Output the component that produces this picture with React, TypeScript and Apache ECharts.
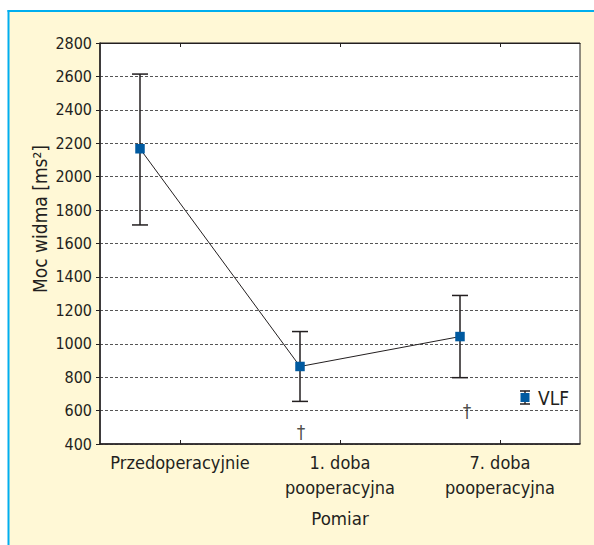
import React, { useEffect, useRef } from "react";
import * as echarts from "echarts";

// ---- data ----
const categories = ["Przedoperacyjnie", "1. doba\npooperacyjna", "7. doba\npooperacyjna"];
const seriesName = "VLF";
const means = [2167, 864, 1043];
const upper = [2614, 1073, 1289];
const lower = [1711, 655, 797];
const daggerValues: (number | null)[] = [null, 470, 600];
const yMin = 400;
const yMax = 2800;
const yInterval = 200;
const xTitle = "Pomiar";
const yTitle = "Moc widma [ms²]";

// ---- style ----
const FONT = "'Liberation Sans Narrow', 'DejaVu Sans Condensed', 'Arial Narrow', sans-serif";
const INK = "#231F20";
const BLUE = "#005AA0";
const PANEL = "#FFF8D6";
const FRAME = "#00AEEF";
const POINT_OFFSET = 0.25; // points sit a quarter band right of the band start

const legendIconSvg =
  "<svg xmlns='http://www.w3.org/2000/svg' width='12' height='15'>" +
  "<path d='M1 1H11M6 1V14M1 14H11' stroke='" + INK + "' stroke-width='1.4' fill='none'/>" +
  "<rect x='1.5' y='3' width='9' height='9' fill='" + BLUE + "'/></svg>";
const legendIcon = "image://data:image/svg+xml;charset=utf-8," + encodeURIComponent(legendIconSvg);

export default function App() {
  const ref = useRef<HTMLDivElement>(null);
  useEffect(() => {
    if (!ref.current) return;
    const chart = echarts.init(ref.current, null, { renderer: "svg" });
    const xs = means.map((_, i) => i + POINT_OFFSET);
    chart.setOption({
      animation: false,
      backgroundColor: "#ffffff",
      textStyle: { fontFamily: FONT, color: INK },
      graphic: [
        { type: "rect", shape: { x: 8.5, y: 11, width: 600, height: 600 }, style: { fill: PANEL }, z: -10 },
        { type: "line", shape: { x1: 7.5, y1: 11, x2: 600, y2: 11 }, style: { stroke: FRAME, lineWidth: 2 }, z: -9 },
        { type: "line", shape: { x1: 8.5, y1: 10, x2: 8.5, y2: 600 }, style: { stroke: FRAME, lineWidth: 2 }, z: -9 },
        {
          type: "text",
          x: 40,
          y: 219,
          rotation: Math.PI / 2,
          style: {
            text: yTitle,
            font: "19px " + FONT,
            fill: INK,
            align: "center",
            verticalAlign: "middle",
          },
        },
      ],
      legend: {
        show: true,
        data: [{ name: seriesName, icon: legendIcon }],
        left: 519,
        top: 388,
        padding: 0,
        itemWidth: 12,
        itemHeight: 15,
        itemGap: 0,
        textStyle: { fontFamily: FONT, fontSize: 19, color: INK, padding: [0, 0, 0, 2] },
      },
      grid: {
        left: 100,
        right: 14,
        top: 43,
        bottom: 101,
        show: true,
        backgroundColor: "#ffffff",
        borderColor: INK,
        borderWidth: 1,
      },
      xAxis: [
        {
          type: "category",
          data: categories,
          position: "bottom",
          boundaryGap: true,
          axisLine: { show: true, lineStyle: { color: INK, width: 1.5 } },
          axisTick: { show: true, inside: true, alignWithLabel: true, length: 4, lineStyle: { color: INK } },
          axisLabel: { interval: 0, fontFamily: FONT, fontSize: 18, lineHeight: 25, margin: 6, color: INK },
          splitLine: { show: false },
          name: xTitle,
          nameLocation: "middle",
          nameGap: 65,
          nameTextStyle: { fontFamily: FONT, fontSize: 18.5, color: INK },
        },
        {
          type: "category",
          data: categories,
          position: "top",
          boundaryGap: true,
          axisLine: { show: true, lineStyle: { color: INK, width: 1 } },
          axisTick: { show: true, inside: true, alignWithLabel: true, length: 4, lineStyle: { color: INK } },
          axisLabel: { show: false },
          splitLine: { show: false },
        },
        { type: "value", min: 0, max: 3, show: false, splitLine: { show: false } },
      ],
      yAxis: {
        type: "value",
        min: yMin,
        max: yMax,
        interval: yInterval,
        axisLine: { show: true, lineStyle: { color: INK, width: 1.5 } },
        axisTick: { show: true, inside: false, length: 4, lineStyle: { color: INK } },
        axisLabel: { fontFamily: FONT, fontSize: 16, margin: 8, color: INK, formatter: (v: number) => String(v) },
        splitLine: { show: true, lineStyle: { type: [3, 2], color: "#555555", width: 1 } },
      },
      series: [
        {
          type: "custom",
          name: "errors",
          xAxisIndex: 2,
          yAxisIndex: 0,
          z: 2,
          encode: { x: 0, y: [1, 2] },
          data: xs.map((x, i) => [x, lower[i], upper[i]]),
          renderItem: (params: any, api: any) => {
            const x = api.value(0);
            const lo = api.coord([x, api.value(1)]);
            const hi = api.coord([x, api.value(2)]);
            const hw = 8;
            const st = { stroke: INK, lineWidth: 1.5 };
            return {
              type: "group",
              children: [
                { type: "line", shape: { x1: lo[0], y1: lo[1], x2: hi[0], y2: hi[1] }, style: st },
                { type: "line", shape: { x1: lo[0] - hw, y1: lo[1], x2: lo[0] + hw, y2: lo[1] }, style: st },
                { type: "line", shape: { x1: hi[0] - hw, y1: hi[1], x2: hi[0] + hw, y2: hi[1] }, style: st },
              ],
            };
          },
        },
        {
          type: "line",
          name: seriesName,
          xAxisIndex: 2,
          yAxisIndex: 0,
          z: 3,
          data: xs.map((x, i) => [x, means[i]]),
          symbol: "rect",
          symbolSize: 9.5,
          itemStyle: { color: BLUE },
          lineStyle: { color: INK, width: 1 },
        },
        {
          type: "scatter",
          name: "annotations",
          xAxisIndex: 2,
          yAxisIndex: 0,
          z: 4,
          symbolSize: 1,
          itemStyle: { color: "rgba(0,0,0,0)" },
          data: daggerValues
            .map((v, i) => (v == null ? null : { value: [xs[i], v], label: { offset: [i === 2 ? 7 : 1, 0] } }))
            .filter((d) => d != null),
          label: {
            show: true,
            position: "inside",
            formatter: "†",
            fontFamily: FONT,
            fontSize: 19,
            color: INK,
            textBorderWidth: 0,
            textBorderColor: "transparent",
          },
        },
      ],
    });
    return () => chart.dispose();
  }, []);
  return <div ref={ref} style={{ position: "fixed", left: 0, top: 0, width: 594, height: 545 }} />;
}
